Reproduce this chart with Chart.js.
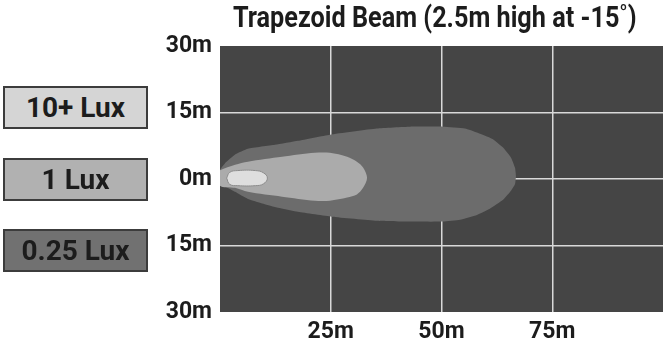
<!DOCTYPE html>
<html>
<head>
<meta charset="utf-8">
<title>Trapezoid Beam</title>
<script src="https://cdn.jsdelivr.net/npm/chart.js@4.4.1/dist/chart.umd.min.js"></script>
<style>
  html, body { margin: 0; padding: 0; background: #fff; }
  #wrap { position: relative; width: 665px; height: 345px; overflow: hidden;
          font-family: Roboto, 'Liberation Sans', sans-serif; color: #1c1c1c; }
  #beam { position: absolute; left: 0; top: 0; }
  #title { position: absolute; left: 233px; top: 0px; font-weight: bold; font-size: 29px; white-space: nowrap;
           transform-origin: 0 0; transform: scaleX(0.87); }
  .key { position: absolute; left: 3px; width: 141px; height: 39px; border: 2px solid #3c3c3c;
         text-align: center; font-weight: bold; font-size: 28px; line-height: 40px; }
</style>
</head>
<body>
<div id="wrap">
  <canvas id="beam" width="665" height="345"></canvas>
  <div id="title">Trapezoid Beam (2.5m high at -15˚)</div>
  <div class="key" style="top:86px;background:#d5d5d5">10+ Lux</div>
  <div class="key" style="top:158px;background:#b1b1b1">1 Lux</div>
  <div class="key" style="top:229px;background:#717171">0.25 Lux</div>
</div>
<script>
// beam footprint contours, [distance m, lateral m], traced around each lux zone
const lux025 = [
  [0, 2.1], [1.1, 3.5], [3.4, 5.5], [6.3, 6.8], [12.4, 7.7], [17.6, 8.6], [24.8, 10.0],
  [35.4, 11.4], [42.9, 11.8], [50.3, 11.8], [55.3, 11.4], [58.0, 10.5], [61.4, 9.1],
  [63.9, 7.1], [65.7, 4.8], [66.6, 2.5], [66.8, 0.7], [66.6, -1.1], [65.5, -2.9],
  [63.9, -4.7], [60.9, -6.7], [58.0, -8.1], [54.2, -9.2], [50.3, -9.6], [42.9, -9.6],
  [35.4, -9.4], [25.3, -8.5], [17.6, -7.4], [12.4, -6.3], [6.3, -4.5], [3.4, -2.9],
  [1.1, -1.7], [0, -1.5], [0, 2.1]
];
const lux1 = [
  [0, 2.0], [3.4, 3.2], [6.3, 3.9], [14.0, 5.0], [21.4, 5.9], [24.8, 5.9], [28.7, 5.0],
  [30.9, 3.9], [32.3, 2.6], [33.2, 0.3], [32.3, -2.0], [30.9, -3.5], [28.7, -4.2],
  [24.8, -4.9], [21.4, -4.9], [14.0, -4.0], [6.3, -2.9], [3.4, -2.0], [0, -1.5], [0, 2.0]
];
const lux10 = [
  [1.5, 0.2], [2.2, 1.5], [4.0, 1.9], [8.0, 1.9], [9.8, 1.4], [10.7, 0.2],
  [9.8, -1.1], [8.0, -1.5], [4.0, -1.5], [2.2, -1.2], [1.5, 0.2]
];

// axes
const xTicks = [25, 50, 75];
const yTicks = [-30, -15, 0, 15, 30];
const xMin = 0, xMax = 100, yMin = -30, yMax = 30;

const toPts = arr => arr.map(p => ({ x: p[0], y: p[1] }));
const tickFont = { family: "Roboto, 'Liberation Sans', sans-serif", size: 23, weight: 'bold' };

// dark plot background
const plotBg = {
  id: 'plotBg',
  beforeDraw(chart) {
    const { ctx, chartArea: a } = chart;
    ctx.save();
    ctx.fillStyle = '#454545';
    ctx.fillRect(a.left, a.top, a.right - a.left, a.bottom - a.top);
    ctx.restore();
  }
};

new Chart(document.getElementById('beam'), {
  type: 'scatter',
  data: {
    datasets: [
      { label: '10+ Lux', data: toPts(lux10), showLine: true, fill: 'shape', tension: 0.45,
        backgroundColor: '#dedede', borderColor: '#8c8c8c', borderWidth: 1, pointRadius: 0, order: 1 },
      { label: '1 Lux', data: toPts(lux1), showLine: true, fill: 'shape', tension: 0.3,
        backgroundColor: '#ababab', borderColor: '#ababab', borderWidth: 0, pointRadius: 0, order: 2 },
      { label: '0.25 Lux', data: toPts(lux025), showLine: true, fill: 'shape', tension: 0.15,
        backgroundColor: '#6c6c6c', borderColor: '#6c6c6c', borderWidth: 0, pointRadius: 0, order: 3 }
    ]
  },
  options: {
    responsive: false,
    animation: false,
    layout: { padding: { top: 46, right: 2, bottom: 0, left: 0 } },
    plugins: { legend: { display: false }, tooltip: { enabled: false }, title: { display: false } },
    scales: {
      x: {
        type: 'linear', min: xMin, max: xMax, z: 1,
        afterBuildTicks: s => { s.ticks = xTicks.map(v => ({ value: v })); },
        afterFit: s => { s.height = 33; },
        grid: { color: '#d9d9d9', lineWidth: 1.5, drawTicks: false },
        border: { display: false },
        ticks: { padding: 6, color: '#1c1c1c', font: tickFont, callback: v => v + 'm' }
      },
      y: {
        type: 'linear', min: yMin, max: yMax, z: 1,
        afterBuildTicks: s => { s.ticks = yTicks.map(v => ({ value: v })); },
        afterFit: s => { s.width = 220; },
        grid: {
          color: c => (Math.abs(c.tick.value) === 30 ? 'rgba(0,0,0,0)' : '#d9d9d9'),
          lineWidth: 1.5, drawTicks: false
        },
        border: { display: false },
        ticks: { padding: 8, color: '#1c1c1c', font: tickFont, callback: v => Math.abs(v) + 'm' }
      }
    }
  },
  plugins: [plotBg]
});
</script>
</body>
</html>
